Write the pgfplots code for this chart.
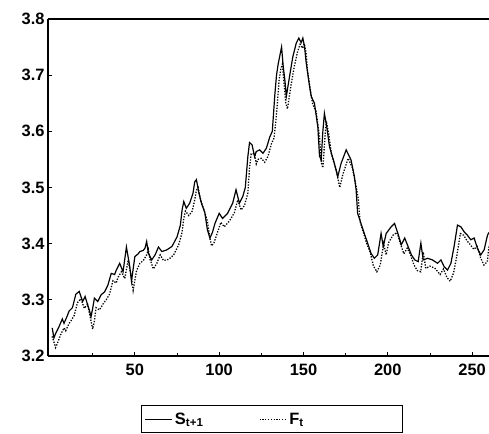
\documentclass[border=0pt]{standalone}
\usepackage{fontspec}
\setmainfont{Liberation Sans}
\usepackage{pgfplots}
\pgfplotsset{compat=1.18}
\usepackage{pgfplotstable}

% spot rate S(t+1)
\pgfplotstableread{
x y
1 3.250
2 3.232
3 3.240
5 3.252
7 3.266
8 3.258
10 3.272
11 3.280
13 3.286
15 3.310
17 3.315
19 3.297
20.5 3.306
22 3.291
23 3.282
24 3.270
25 3.285
26 3.303
28 3.297
30 3.309
32 3.314
34 3.326
36 3.347
38 3.345
39 3.353
41 3.365
43 3.350
45 3.394
47 3.359
48 3.333
50 3.377
52 3.382
53 3.386
55 3.388
56 3.392
57 3.404
58 3.383
60 3.371
62 3.380
64 3.394
66 3.386
69 3.389
72 3.395
75 3.412
77 3.433
78 3.460
79 3.475
80.5 3.463
82.5 3.472
84.5 3.490
85.5 3.510
86.5 3.514
88 3.490
89.5 3.472
91.5 3.455
93 3.425
94.5 3.410
96 3.420
97.5 3.436
100 3.454
102 3.445
105 3.454
108 3.472
110 3.496
112 3.472
114 3.484
115.5 3.500
117 3.555
118 3.580
119.5 3.576
121 3.555
122 3.564
124 3.567
126 3.561
128 3.570
130 3.590
131.5 3.600
132.2 3.630
133 3.665
134 3.700
135 3.720
136 3.735
137 3.750
138 3.715
139 3.690
139.8 3.662
141.7 3.697
143.7 3.733
145.7 3.757
147.2 3.766
148.6 3.758
149.6 3.766
150.6 3.751
151.6 3.722
153.6 3.680
154.6 3.662
156.5 3.650
158.5 3.608
159.5 3.556
160.5 3.549
161.4 3.597
162.4 3.632
163.8 3.608
165.4 3.573
168.3 3.543
170.3 3.519
172.3 3.543
175.3 3.567
178.2 3.549
180.2 3.519
181.2 3.496
182.1 3.454
184.1 3.436
186.1 3.418
188 3.401
190 3.383
192 3.374
194 3.380
196 3.418
197.3 3.395
199 3.418
202 3.430
204 3.436
206 3.418
208 3.398
210 3.410
212 3.395
214 3.380
216 3.371
218 3.368
219.6 3.401
221 3.371
223.6 3.374
226.5 3.371
229.5 3.365
231.5 3.371
233.4 3.359
235.4 3.353
237.4 3.365
239.3 3.395
241.3 3.433
243.3 3.430
245.3 3.421
247.2 3.415
249.2 3.407
251.2 3.410
253.1 3.392
255.1 3.380
257.1 3.389
259.1 3.415
260 3.420
}\spot

% forward rate F(t)
\pgfplotstableread{
x y
1 3.235
2 3.225
3 3.215
4 3.222
6 3.238
8 3.250
9 3.245
11 3.258
12 3.262
14 3.272
16 3.295
18 3.302
20 3.285
22 3.292
24 3.262
25 3.248
26 3.262
27 3.286
29 3.282
31 3.292
33 3.300
35 3.310
37 3.334
39 3.330
40 3.340
42 3.350
44 3.338
46 3.370
48 3.340
49 3.317
51 3.352
53 3.365
55 3.370
57 3.380
58 3.390
59 3.372
61 3.355
63 3.365
65 3.380
67 3.370
70 3.372
73 3.380
76 3.398
78 3.420
79 3.445
80 3.458
82 3.450
84 3.458
85.5 3.478
86.5 3.495
87.5 3.500
89 3.478
91 3.460
93 3.440
94.5 3.410
95.5 3.396
97 3.402
99 3.420
101 3.438
103 3.430
106 3.440
109 3.455
111 3.478
113 3.460
115 3.468
117 3.490
118 3.535
119 3.560
121 3.560
122 3.542
123 3.550
125 3.552
127 3.545
129 3.556
131 3.578
132.5 3.588
133.5 3.615
134.5 3.650
135.5 3.690
136.5 3.710
137.5 3.720
138.5 3.685
139.5 3.650
140.5 3.640
142.5 3.680
144.5 3.715
146.5 3.742
148 3.755
149.5 3.748
150.5 3.756
151.5 3.740
152.5 3.705
154.5 3.665
155.5 3.648
157.5 3.635
159.5 3.590
160.5 3.545
161.5 3.535
162.5 3.580
163.5 3.618
165 3.595
166.5 3.560
169.5 3.530
171.5 3.500
173.5 3.525
176.5 3.552
179 3.535
181 3.505
182.5 3.480
183.5 3.440
185.5 3.420
187.5 3.400
189.5 3.385
191.5 3.360
193.5 3.350
195.5 3.362
197.5 3.400
199 3.380
200.5 3.402
203 3.415
205.5 3.420
207.5 3.400
209.5 3.382
211.5 3.392
213.5 3.380
215.5 3.362
217.5 3.352
219.5 3.350
221 3.385
222.5 3.356
225 3.360
228 3.356
231 3.345
233 3.355
235 3.340
237 3.333
239 3.348
241 3.380
243 3.418
245 3.415
247 3.405
249 3.398
251 3.390
253 3.395
255 3.375
257 3.362
259 3.368
260 3.395
}\fwd

\begin{document}
\begin{tikzpicture}
\begin{axis}[
  name=main,
  scale only axis,
  width=441bp,
  height=337bp,
  xmin=-1.5, xmax=260,
  ymin=3.2, ymax=3.8,
  xtick={50,100,150,200,250},
  minor xtick={25,75,125,175,225},
  ytick={3.2,3.3,3.4,3.5,3.6,3.7,3.8},
  yticklabel style={/pgf/number format/fixed,/pgf/number format/precision=1,/pgf/number format/fixed zerofill},
  /pgf/number format/assume math mode=true,
  tick label style={font=\fontsize{16.5}{19}\selectfont\bfseries},
  xticklabel style={yshift=-5bp},
  major tick length=4bp,
  minor tick length=3bp,
  tick style={black,line width=0.8pt},
  axis lines*=left,
  axis line style={black,line width=1.2pt},
  after end axis/.code={\draw[black,line width=1.2pt] (rel axis cs:0,1) -- (rel axis cs:1,1);},
  legend image code/.code={\draw[#1] (0bp,0bp) -- (27bp,0bp);},
  legend style={at={(0.508,-0.146)},anchor=north,legend columns=2,
    draw=black,line width=1pt,font=\fontsize{16.5}{19}\selectfont\bfseries,
    inner xsep=3bp,inner ysep=5bp},
  legend cell align=left,
]
\addplot[black,line width=1.2pt] table[x=x,y=y] {\spot};
\addlegendentry{\makebox[82bp][l]{S\textsubscript{t+1}}}
\addplot[black,dash pattern=on 1.3pt off 1.5pt,line width=1.3pt] table[x=x,y=y] {\fwd};
\addlegendentry{\makebox[108bp][l]{F\textsubscript{t}}}
\end{axis}
\pgfresetboundingbox
\path ([shift={(-48bp,-78bp)}]main.south west) rectangle ([shift={(0bp,19bp)}]main.north east);
\end{tikzpicture}
\end{document}
